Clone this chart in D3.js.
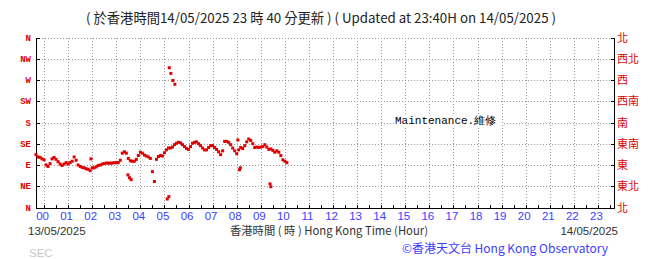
<!DOCTYPE html>
<html lang="zh-Hant">
<head>
<meta charset="utf-8">
<title>Wind direction</title>
<script src="https://cdn.jsdelivr.net/npm/d3@7"></script>
<style>
    body { margin: 0; background: #fff; }
    svg { display: block; }
    .grid line { stroke: #9a9a9a; stroke-dasharray: 1,2; shape-rendering: crispEdges; }
    .frame { stroke: #000; shape-rendering: crispEdges; }
</style>
</head>
<body>
<svg id="chart" width="655" height="259"></svg>
<script>
// time is minutes after 00:00 on 13/05/2025, direction in degrees
var dirLabels = ["N", "NE", "E", "SE", "S", "SW", "W", "NW", "N"];
var dirLabelsZh = ["北", "東北", "東", "東南", "南", "西南", "西", "西北", "北"];
var hourLabels = ["00","01","02","03","04","05","06","07","08","09","10","11",
                  "12","13","14","15","16","17","18","19","20","21","22","23"];

// main trace, one reading every 5 minutes from 23:40 the day before
var startMin = -20, stepMin = 5;
var windDir = [
    112,107,106,103,101, 90, 87, 93,103,106,102, 97, 92, 89, 92, 95, 92, 95, 98,107,
    100, 90, 87, 85, 84, 82, 81, 78, 84, 84, 86, 89, 90, 92, 93, 94, 94, 94, 94, 95,
     95, 95,100,115,118,115,104, 99, 98, 98,102,110,117,115,111,109,107,104, 76, 55,
    102,108,110,109,116,122,126,126,128,133,136,138,137,133,129,125,123,129,136,138,
    139,135,131,126,122,122,127,131,131,127,123,118,112,120,140,140,138,133,126,120,
    114,122,127,125,131,139,145,142,135,127,128,127,128,129,133,128,123,124,121,117,
    120,117,110,101, 98, 95
];

// stray readings away from the main trace
var strayMin = [117, 209, 213, 217, 307, 311, 312, 316, 321, 326, 483, 487, 489, 563, 565];
var strayDir = [103,  69,  63,  59,  18,  23, 296, 284, 269, 261, 143,  80,  84,  50,  44];

var titleText = "( 於香港時間14/05/2025 23 時 40 分更新 ) ( Updated at 23:40H on 14/05/2025 )";

var svg = d3.select("#chart");
var plot = {left: 36, right: 614, top: 37.5, bottom: 207.5};

var x = d3.scaleLinear().domain([-20, 1420]).range([plot.left, plot.right]);
var y = d3.scaleLinear().domain([0, 360]).range([plot.bottom, plot.top]);

var points = windDir.map(function (d, i) { return {t: startMin + i * stepMin, v: d}; });
strayMin.forEach(function (t, i) { points.push({t: t, v: strayDir[i]}); });

var dirTicks = d3.range(0, 361, 45);
var hourTicks = d3.range(0, 24).map(function (h) { return h * 60; });

// grid
var grid = svg.append("g").attr("class", "grid");
grid.selectAll(".h").data(dirTicks.slice(1)).enter().append("line")
    .attr("x1", plot.left).attr("x2", plot.right)
    .attr("y1", function (d) { return Math.round(y(d)) + 0.5; })
    .attr("y2", function (d) { return Math.round(y(d)) + 0.5; });
grid.selectAll(".v").data(hourTicks).enter().append("line")
    .attr("y1", plot.top).attr("y2", plot.bottom)
    .attr("x1", function (d) { return Math.round(x(d)) + 0.5; })
    .attr("x2", function (d) { return Math.round(x(d)) + 0.5; });

// maintenance note
var note = svg.append("g");
note.append("rect").attr("x", 394).attr("y", 114).attr("width", 108).attr("height", 13).attr("fill", "#fff");
note.append("text")
    .attr("x", 395).attr("y", 124)
    .style("font-family", "'Liberation Mono', monospace")
    .style("font-size", "11px")
    .attr("fill", "#000")
    .text("Maintenance.維修");

// frame: left, right, bottom
svg.append("line").attr("class", "frame")
    .attr("x1", plot.left + 0.5).attr("x2", plot.left + 0.5).attr("y1", plot.top).attr("y2", plot.bottom + 1);
svg.append("line").attr("class", "frame")
    .attr("x1", plot.right + 0.5).attr("x2", plot.right + 0.5).attr("y1", plot.top).attr("y2", plot.bottom + 1);
svg.append("line").attr("class", "frame")
    .attr("x1", plot.left).attr("x2", plot.right + 1)
    .attr("y1", Math.round(plot.bottom) + 0.5).attr("y2", Math.round(plot.bottom) + 0.5);

// small ticks on axes
svg.append("g").selectAll("line").data(dirTicks).enter().append("line").attr("class", "frame")
    .attr("x1", plot.left).attr("x2", plot.left + 4)
    .attr("y1", function (d) { return Math.round(y(d)) + 0.5; })
    .attr("y2", function (d) { return Math.round(y(d)) + 0.5; });
svg.append("g").selectAll("line").data(dirTicks).enter().append("line").attr("class", "frame")
    .attr("x1", plot.right - 3).attr("x2", plot.right + 1)
    .attr("y1", function (d) { return Math.round(y(d)) + 0.5; })
    .attr("y2", function (d) { return Math.round(y(d)) + 0.5; });
svg.append("g").selectAll("line").data(d3.range(0, 1420, 30)).enter().append("line").attr("class", "frame")
    .attr("y1", Math.round(plot.bottom)).attr("y2", Math.round(plot.bottom) - 3)
    .attr("x1", function (d) { return Math.round(x(d)) + 0.5; })
    .attr("x2", function (d) { return Math.round(x(d)) + 0.5; });

// data
svg.append("g").selectAll("rect").data(points).enter().append("rect")
    .attr("x", function (d) { return x(d.t) - 1.5; })
    .attr("y", function (d) { return y(d.v) - 1.5; })
    .attr("width", 3).attr("height", 3)
    .attr("fill", "#e00000");

// direction labels
svg.append("g").selectAll("text").data(dirLabels).enter().append("text")
    .attr("x", 31)
    .attr("y", function (d, i) { return y(dirTicks[i]) + 3; })
    .attr("text-anchor", "end")
    .style("font-family", "'Liberation Mono', monospace")
    .style("font-weight", "bold")
    .style("font-size", "9px")
    .attr("fill", "#e00000")
    .text(function (d) { return d; });
svg.append("g").selectAll("text").data(dirLabelsZh).enter().append("text")
    .attr("x", 617)
    .attr("y", function (d, i) { return y(dirTicks[i]) + 4; })
    .style("font-family", "'Noto Sans CJK TC', sans-serif")
    .style("font-size", "11px")
    .attr("fill", "#e00000")
    .text(function (d) { return d; });

// hour labels
svg.append("g").selectAll("text").data(hourLabels).enter().append("text")
    .attr("x", function (d, i) { return x(hourTicks[i]) - 1.5; })
    .attr("y", 220)
    .attr("text-anchor", "middle")
    .style("font-family", "'Liberation Sans', sans-serif")
    .style("font-size", "11.5px")
    .attr("fill", "#3d3dff")
    .text(function (d) { return d; });

// texts
svg.append("text").attr("x", 321).attr("y", 23).attr("text-anchor", "middle")
    .style("font-family", "'Noto Sans CJK TC', sans-serif").style("font-size", "13.3px")
    .attr("fill", "#222").text(titleText);
svg.append("text").attr("x", 28).attr("y", 235)
    .style("font-family", "'Liberation Sans', sans-serif").style("font-size", "11.5px")
    .attr("fill", "#333").text("13/05/2025");
svg.append("text").attr("x", 618).attr("y", 235).attr("text-anchor", "end")
    .style("font-family", "'Liberation Sans', sans-serif").style("font-size", "11.5px")
    .attr("fill", "#333").text("14/05/2025");
svg.append("text").attr("x", 329).attr("y", 235).attr("text-anchor", "middle")
    .style("font-family", "'Noto Sans CJK TC', sans-serif").style("font-size", "11.3px")
    .attr("fill", "#333").text("香港時間 ( 時 ) Hong Kong Time (Hour)");
svg.append("text").attr("x", 505).attr("y", 253).attr("text-anchor", "middle")
    .style("font-family", "'Noto Sans CJK TC', sans-serif").style("font-size", "12px")
    .attr("fill", "#3d3dff").text("©香港天文台 Hong Kong Observatory");
svg.append("text").attr("x", 29).attr("y", 257)
    .style("font-family", "'Liberation Sans', sans-serif").style("font-size", "11.5px")
    .attr("fill", "#c8c8c8").text("SEC");
</script>
</body>
</html>
